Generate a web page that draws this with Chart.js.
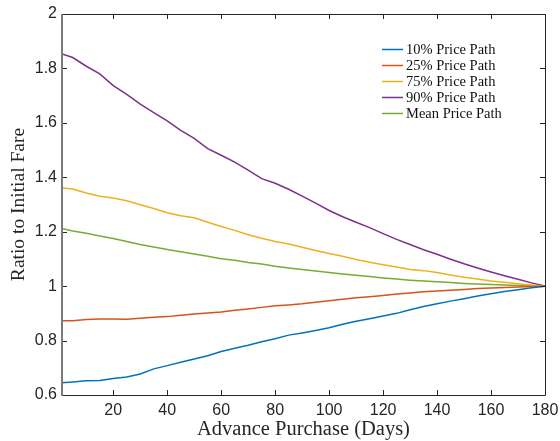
<!DOCTYPE html>
<html>
<head>
<meta charset="utf-8">
<script src="https://cdn.jsdelivr.net/npm/chart.js@4"></script>
<style>
  html, body { margin: 0; padding: 0; background: #fff; }
  canvas { display: block; }
</style>
</head>
<body>
<canvas id="fareChart" width="560" height="441"></canvas>
<script>
(function () {
  "use strict";

  // days before departure and the price paths
  const days = [1, 5, 10, 15, 20, 25, 30, 35, 40, 45, 50, 55, 60, 65, 70, 75, 80, 85, 90,
    95, 100, 105, 110, 115, 120, 125, 130, 135, 140, 145, 150, 155, 160, 165, 170, 175, 180];

  const path10 = [0.645, 0.648, 0.652, 0.653, 0.661, 0.666, 0.677, 0.696, 0.708, 0.720, 0.732,
    0.744, 0.760, 0.772, 0.783, 0.796, 0.807, 0.820, 0.828, 0.837, 0.847, 0.860, 0.871, 0.880,
    0.890, 0.900, 0.913, 0.925, 0.935, 0.945, 0.954, 0.964, 0.972, 0.980, 0.987, 0.994, 1.000];

  const path25 = [0.873, 0.873, 0.877, 0.879, 0.879, 0.878, 0.882, 0.886, 0.888, 0.893, 0.898,
    0.901, 0.905, 0.911, 0.916, 0.922, 0.928, 0.931, 0.935, 0.941, 0.946, 0.952, 0.957, 0.961,
    0.966, 0.971, 0.975, 0.979, 0.982, 0.985, 0.988, 0.991, 0.993, 0.995, 0.997, 0.999, 1.000];

  const path75 = [1.361, 1.357, 1.342, 1.330, 1.324, 1.314, 1.299, 1.285, 1.270, 1.259, 1.251,
    1.235, 1.219, 1.205, 1.189, 1.176, 1.164, 1.155, 1.143, 1.131, 1.120, 1.110, 1.098, 1.088,
    1.079, 1.070, 1.061, 1.057, 1.050, 1.041, 1.033, 1.026, 1.019, 1.014, 1.009, 1.004, 1.000];

  const path90 = [1.853, 1.840, 1.808, 1.780, 1.737, 1.705, 1.669, 1.638, 1.607, 1.572, 1.543,
    1.505, 1.481, 1.456, 1.426, 1.395, 1.378, 1.356, 1.331, 1.305, 1.278, 1.255, 1.235, 1.215,
    1.193, 1.172, 1.153, 1.134, 1.117, 1.099, 1.082, 1.067, 1.052, 1.038, 1.025, 1.012, 1.000];

  const pathMean = [1.212, 1.203, 1.194, 1.184, 1.175, 1.164, 1.153, 1.144, 1.135, 1.126, 1.118,
    1.110, 1.101, 1.095, 1.087, 1.081, 1.073, 1.067, 1.061, 1.056, 1.050, 1.045, 1.040, 1.035,
    1.030, 1.026, 1.022, 1.019, 1.016, 1.013, 1.010, 1.008, 1.006, 1.004, 1.002, 1.001, 1.000];

  const xTicks = [20, 40, 60, 80, 100, 120, 140, 160, 180];
  const yTicks = [0.6, 0.8, 1, 1.2, 1.4, 1.6, 1.8, 2];

  const axisColor = '#262626';
  const sans = "'Liberation Sans', Arial, sans-serif";
  const serif = "'Liberation Serif', 'Times New Roman', serif";

  function series(label, values, color) {
    return {
      label: label,
      data: days.map((d, i) => ({x: d, y: values[i]})),
      borderColor: color,
      backgroundColor: color,
      borderWidth: 1.5,
      pointRadius: 0,
      tension: 0,
      fill: false
    };
  }

  // matlab style box: inward ticks on all four sides, legend inside the plot
  const boxPlugin = {
    id: 'box',
    afterDatasetsDraw(chart) {
      const {ctx, chartArea: a, scales} = chart;
      const tl = 5;
      ctx.save();
      ctx.strokeStyle = axisColor;
      ctx.lineWidth = 1;
      ctx.beginPath();
      ctx.moveTo(a.left, a.top + 0.5);
      ctx.lineTo(a.right + 0.5, a.top + 0.5);
      ctx.lineTo(a.right + 0.5, a.bottom + 0.5);
      ctx.lineTo(a.left, a.bottom + 0.5);
      xTicks.forEach(v => {
        const px = Math.round(scales.x.getPixelForValue(v)) + 0.5;
        ctx.moveTo(px, a.bottom);
        ctx.lineTo(px, a.bottom - tl);
        ctx.moveTo(px, a.top);
        ctx.lineTo(px, a.top + tl);
      });
      yTicks.forEach(v => {
        const py = Math.round(scales.y.getPixelForValue(v)) + 0.5;
        ctx.moveTo(a.left, py);
        ctx.lineTo(a.left + tl, py);
        ctx.moveTo(a.right, py);
        ctx.lineTo(a.right - tl, py);
      });
      ctx.stroke();

      ctx.strokeStyle = '#7a7a7a';
      ctx.lineWidth = 2;
      ctx.beginPath();
      ctx.moveTo(a.left, a.top);
      ctx.lineTo(a.left, a.bottom + 1);
      ctx.stroke();

      // legend
      ctx.font = '14.5px ' + serif;
      ctx.textAlign = 'left';
      ctx.textBaseline = 'middle';
      chart.data.datasets.forEach((ds, i) => {
        const y = a.top + 35.5 + i * 16;
        const x0 = a.right - 163;
        ctx.strokeStyle = ds.borderColor;
        ctx.lineWidth = 1.5;
        ctx.beginPath();
        ctx.moveTo(x0, y);
        ctx.lineTo(x0 + 21, y);
        ctx.stroke();
        ctx.fillStyle = '#111';
        ctx.fillText(ds.label, x0 + 24, y + 1);
      });
      ctx.restore();
    }
  };

  new Chart(document.getElementById('fareChart'), {
    type: 'line',
    data: {
      datasets: [
        series('10% Price Path', path10, '#0072BD'),
        series('25% Price Path', path25, '#D95319'),
        series('75% Price Path', path75, '#EDB120'),
        series('90% Price Path', path90, '#7E2F8E'),
        series('Mean Price Path', pathMean, '#77AC30')
      ]
    },
    options: {
      responsive: false,
      animation: false,
      layout: {padding: {top: 14, right: 15, left: 0, bottom: 0}},
      plugins: {
        legend: {display: false},
        tooltip: {enabled: false}
      },
      scales: {
        x: {
          type: 'linear',
          min: 1,
          max: 180,
          afterBuildTicks: s => { s.ticks = xTicks.map(v => ({value: v})); },
          afterFit: s => {
            s.height = 46;
            s.paddingLeft = 0;
            s.paddingRight = 0;
          },
          grid: {display: false, drawTicks: false},
          border: {display: false},
          ticks: {
            padding: 6,
            color: axisColor,
            font: {family: sans, size: 16},
            maxRotation: 0,
            callback: v => String(v)
          },
          title: {
            display: true,
            text: 'Advance Purchase (Days)',
            color: axisColor,
            font: {family: serif, size: 20.5, lineHeight: 1},
            padding: {top: 0, bottom: 1}
          }
        },
        y: {
          min: 0.6,
          max: 2,
          afterBuildTicks: s => { s.ticks = yTicks.map(v => ({value: v})); },
          afterFit: s => {
            s.width = 62;
            s.paddingTop = 0;
            s.paddingBottom = 0;
          },
          grid: {display: false, drawTicks: false},
          border: {display: false},
          ticks: {
            padding: 5,
            color: axisColor,
            font: {family: sans, size: 16},
            callback: v => String(Math.round(v * 10) / 10)
          },
          title: {
            display: true,
            text: 'Ratio to Initial Fare',
            color: axisColor,
            font: {family: serif, size: 19.5, lineHeight: 1},
            padding: {top: 9, bottom: 0}
          }
        }
      }
    },
    plugins: [boxPlugin]
  });
})();
</script>
</body>
</html>
